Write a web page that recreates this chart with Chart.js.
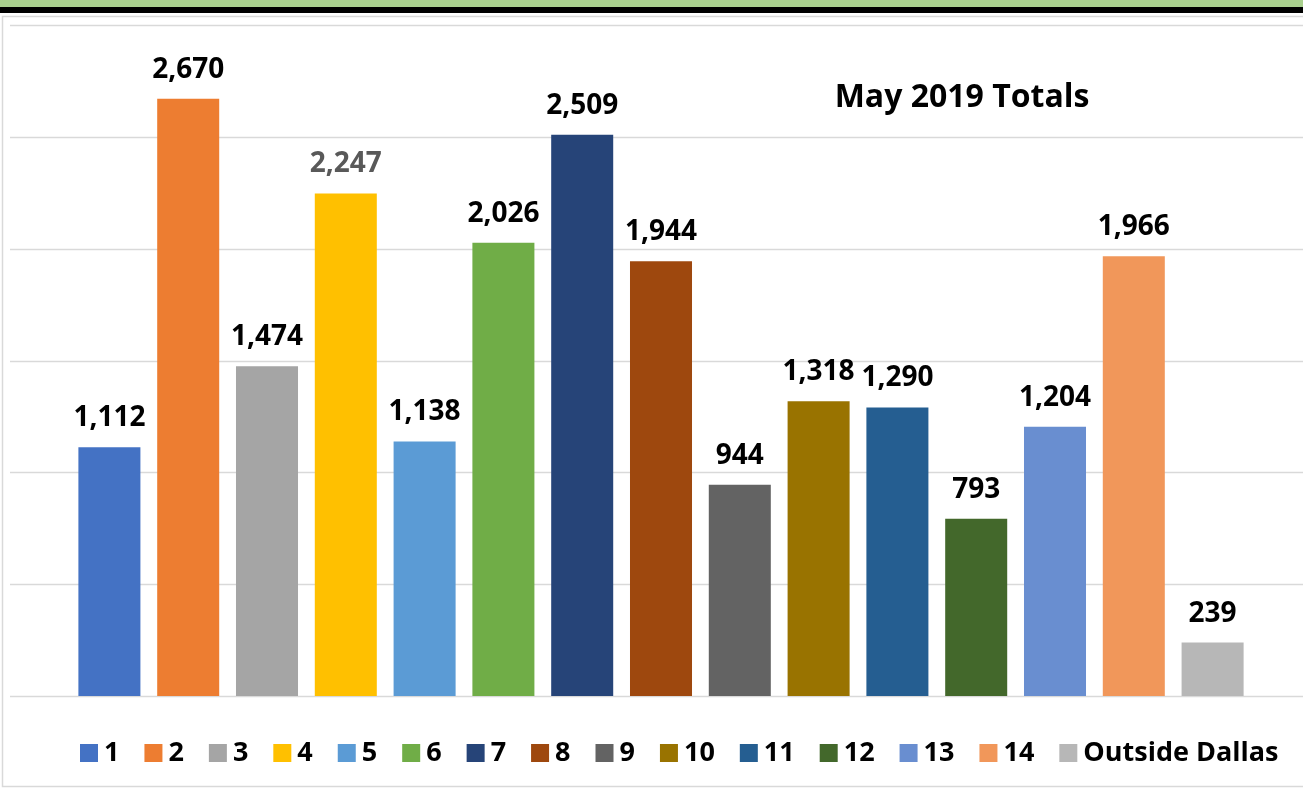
<!DOCTYPE html>
<html>
<head>
<meta charset="utf-8">
<script src="https://cdn.jsdelivr.net/npm/chart.js@4"></script>
<style>
  html, body { margin: 0; padding: 0; background: #fff; overflow: hidden; }
  canvas { display: block; }
</style>
</head>
<body>
<canvas id="chart" width="1303" height="790"></canvas>
<script>
// Chart data
const categories = ['1', '2', '3', '4', '5', '6', '7', '8', '9', '10', '11', '12', '13', '14', 'Outside Dallas'];
const totals = [1112, 2670, 1474, 2247, 1138, 2026, 2509, 1944, 944, 1318, 1290, 793, 1204, 1966, 239];
const barColors = ['#4472C4', '#ED7D31', '#A5A5A5', '#FFC000', '#5B9BD5', '#70AD47', '#264478', '#9E480E',
                   '#636363', '#997300', '#255E91', '#43682B', '#698ED0', '#F1975A', '#B7B7B7'];
const labelColors = totals.map((_, i) => i === 3 ? '#595959' : '#000000');
const titleText = 'May 2019 Totals';

const FONT = '"Open Sans", "Noto Sans", sans-serif';

// frame, gridlines, value labels, title and legend
const decor = {
    id: 'decor',
    beforeDraw(chart) {
        const ctx = chart.ctx;
        const W = chart.width;
        ctx.save();
        ctx.fillStyle = '#A9D08E';
        ctx.fillRect(0, 0, W, 7);
        ctx.fillStyle = '#000';
        ctx.fillRect(0, 7, W, 6);
        ctx.strokeStyle = '#D9D9D9';
        ctx.lineWidth = 1.5;
        ctx.strokeRect(2.5, 16.5, W + 10, 770);
        // horizontal gridlines across the whole plot box
        const y = chart.scales.y;
        ctx.lineWidth = 1.5;
        y.ticks.forEach(t => {
            const py = Math.round(y.getPixelForValue(t.value)) + 0.5;
            ctx.beginPath();
            ctx.moveTo(10, py);
            ctx.lineTo(W, py);
            ctx.stroke();
        });
        ctx.restore();
    },
    afterDatasetsDraw(chart) {
        const ctx = chart.ctx;
        ctx.save();
        ctx.font = 'bold 28px ' + FONT;
        ctx.textAlign = 'center';
        ctx.textBaseline = 'alphabetic';
        chart.getDatasetMeta(0).data.forEach((bar, i) => {
            ctx.fillStyle = labelColors[i];
            ctx.fillText(totals[i].toLocaleString('en-US'), bar.x, bar.y - 21);
        });

        ctx.fillStyle = '#000';
        ctx.font = 'bold 32px ' + FONT;
        ctx.fillText(titleText, 962, 107);

        // legend
        ctx.font = 'bold 27px ' + FONT;
        ctx.textAlign = 'left';
        ctx.textBaseline = 'middle';
        let x = 80;
        categories.forEach((c, i) => {
            ctx.fillStyle = barColors[i];
            ctx.fillRect(x, 744, 18, 18);
            ctx.fillStyle = '#000';
            ctx.fillText(c, x + 24, 753);
            x += 24 + ctx.measureText(c).width + 25;
        });
        ctx.restore();
    }
};

new Chart(document.getElementById('chart'), {
    type: 'bar',
    data: {
        labels: categories,
        datasets: [{
            data: totals,
            backgroundColor: barColors,
            borderWidth: 0,
            barPercentage: 0.787,
            categoryPercentage: 1
        }]
    },
    options: {
        responsive: false,
        animation: false,
        layout: { padding: { left: 70, right: 51, top: 25, bottom: 94 } },
        plugins: {
            legend: { display: false },
            tooltip: { enabled: false }
        },
        scales: {
            x: { display: false },
            y: {
                display: false,
                min: 0,
                max: 3000,
                ticks: { stepSize: 500 }
            }
        }
    },
    plugins: [decor]
});
</script>
</body>
</html>
